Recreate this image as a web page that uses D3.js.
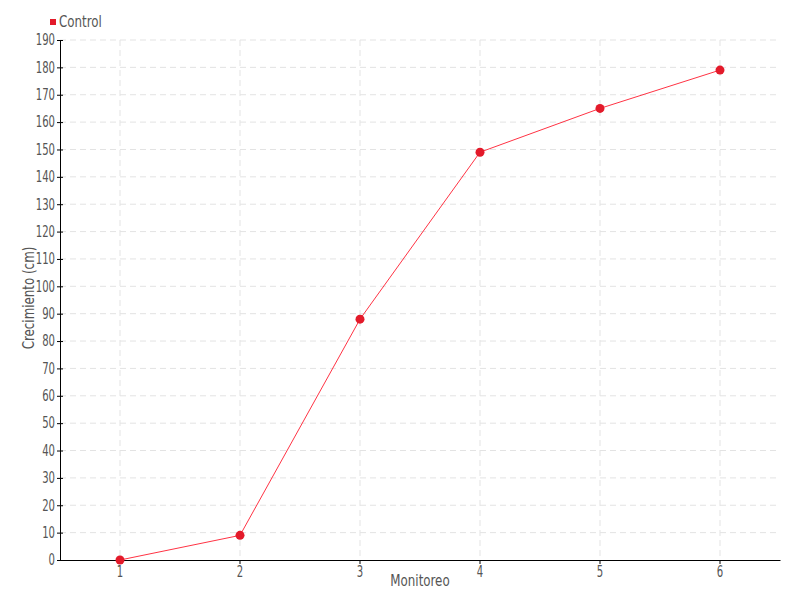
<!DOCTYPE html>
<html>
<head>
<meta charset="utf-8">
<script src="https://cdn.jsdelivr.net/npm/d3@7"></script>
<style>
  body { margin: 0; background: #fff; }
  text { font-family: "Liberation Sans Narrow", "DejaVu Sans Condensed", sans-serif; fill: #555; }
</style>
</head>
<body>
<svg width="800" height="600"></svg>
<script>
var categories = ["1", "2", "3", "4", "5", "6"];
var control = [0, 9, 88, 149, 165, 179];
var yTicks = d3.range(0, 191, 10);
var seriesName = "Control";

var svg = d3.select("svg");
var mLeft = 60, mRight = 780, mTop = 40, mBottom = 560;
var squeeze = 0.75; // the original font is narrow

var x = d3.scaleBand().domain(categories).range([mLeft, mRight]);
var y = d3.scaleLinear().domain([0, 190]).range([mBottom, mTop]);
var cx = function (c) { return x(c) + x.bandwidth() / 2; };

// grid
svg.append("g").selectAll("line.h")
  .data(yTicks.slice(1))
  .enter().append("line")
    .attr("x1", mLeft).attr("x2", mRight)
    .attr("y1", function (d) { return y(d); })
    .attr("y2", function (d) { return y(d); })
    .attr("stroke", "#e3e3e3").attr("stroke-dasharray", "6,4");
svg.append("g").selectAll("line.v")
  .data(categories)
  .enter().append("line")
    .attr("x1", cx).attr("x2", cx)
    .attr("y1", mTop).attr("y2", mBottom)
    .attr("stroke", "#e3e3e3").attr("stroke-dasharray", "6,4");

// axes
var yAxis = svg.append("g").attr("transform", "translate(" + mLeft + ",0)")
  .call(d3.axisLeft(y).tickValues(yTicks).tickSize(3).tickSizeOuter(0).tickPadding(3));
yAxis.selectAll(".tick line").attr("x2", 3).attr("x1", -3);
yAxis.selectAll(".tick text").attr("x", -5 / squeeze).attr("transform", "scale(" + squeeze + ",1)");
var xAxis = svg.append("g").attr("transform", "translate(0," + mBottom + ")")
  .call(d3.axisBottom(x).tickSize(4).tickSizeOuter(0).tickPadding(2));
xAxis.selectAll(".tick text").attr("transform", "scale(" + squeeze + ",1)");
[yAxis, xAxis].forEach(function (a) {
  a.select(".domain").attr("stroke", "#000");
  a.selectAll(".tick line").attr("stroke", "#000");
  a.selectAll(".tick text").style("font-size", "15px").style("fill", "#555");
});

// line + points
var line = d3.line()
  .x(function (d, i) { return cx(categories[i]); })
  .y(function (d) { return y(d); });
svg.append("path").datum(control)
  .attr("d", line).attr("fill", "none")
  .attr("stroke", "#ff3344").attr("stroke-width", 1);
svg.append("g").selectAll("circle")
  .data(control)
  .enter().append("circle")
    .attr("cx", function (d, i) { return cx(categories[i]); })
    .attr("cy", function (d) { return y(d); })
    .attr("r", 4.5).attr("fill", "#e31a2a");

// axis titles
svg.append("text").attr("transform", "translate(420,586) scale(0.88,1)")
  .attr("text-anchor", "middle").style("font-size", "15px").text("Monitoreo");
svg.append("text").attr("transform", "translate(34,298) rotate(-90) scale(0.88,1)")
  .attr("text-anchor", "middle").style("font-size", "15px").text("Crecimiento (cm)");

// legend
svg.append("rect").attr("x", 50).attr("y", 19).attr("width", 6).attr("height", 6).attr("fill", "#e31a2a");
svg.append("text").attr("transform", "translate(59,27) scale(0.88,1)")
  .style("font-size", "15px").text(seriesName);
</script>
</body>
</html>
